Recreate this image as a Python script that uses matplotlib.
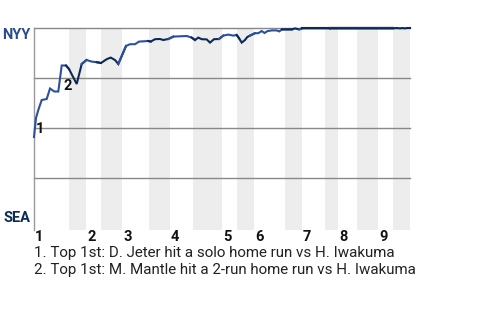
import matplotlib
matplotlib.use("Agg")
import matplotlib.pyplot as plt
import matplotlib.transforms as mtransforms

plt.rcParams['font.family'] = ['Roboto', 'DejaVu Sans']

# game progress (plate appearance position) and NYY win probability (%)
progress = [0, 2, 4.3, 7.7, 12.7, 16, 20.3, 24.3, 27.7, 32, 35,
            42.7, 47.7, 52.5, 57.7, 62.7, 67, 72.7, 76.7, 81, 84.3,
            92, 96, 101, 105, 114.3, 116.7, 121, 126, 129.3, 134.3,
            139.3, 152.7, 157.7, 161, 164.3, 167.7, 172.7, 176, 180, 185,
            189.3, 194.3, 199.3, 202.7, 205, 207.7, 211, 213.3, 216, 221,
            224.3, 227.7, 230.5, 233.3, 237.7, 242.7, 245.3, 248, 258, 261,
            265.3, 268, 296, 359, 362.7, 366, 368.3, 371, 373, 376]
nyy_wp = [45.5, 55, 59, 64, 64.5, 69.75, 68.25, 68.25, 81.25, 81.25, 79.5,
          72, 82, 84, 83.2, 82.9, 82.5, 84.4, 85.2, 84, 82,
          91, 91.9, 91.9, 93.2, 93.5, 93.2, 94.4, 94.5, 94, 94.5,
          95.7, 96, 95.2, 94, 95.2, 94.4, 94.3, 92.7, 94.4, 94.5,
          96.2, 96.7, 96.2, 96.5, 94.9, 92.7, 94, 95.5, 96.2, 97.4,
          97.4, 98.5, 97.5, 98.4, 98.8, 98.8, 98.3, 99.3, 99.3, 99.8,
          99.3, 99.8, 99.8, 99.8, 100, 99.8, 100, 99.8, 100, 100]

# start of each half inning (top 1, bot 1, top 2, ...), and the end
half_starts = [0, 35, 52, 67, 88, 115, 136, 159, 188, 203, 220, 251,
               268, 291, 304, 323, 344, 359, 376]
innings = ['1', '2', '3', '4', '5', '6', '7', '8', '9']

notes_x = [2, 29]
notes_y = [49.5, 71.25]
notes = ["1. Top 1st: D. Jeter hit a solo home run vs H. Iwakuma",
         "2. Top 1st: M. Mantle hit a 2-run home run vs H. Iwakuma"]

top_color = '#2b50a2'
bot_color = '#0c2a52'

fig = plt.figure(figsize=(4.8, 3.2), dpi=100)
ax = fig.add_axes([34 / 480, 1 - 228 / 320, 376 / 480, 200 / 320])
ax.set_xlim(0, 376)
ax.set_ylim(0, 100)

# shaded bottom halves
for i in range(1, len(half_starts) - 1, 2):
    ax.axvspan(half_starts[i], half_starts[i + 1], ymin=-0.01, ymax=1,
               color='#ededed', lw=0, zorder=0, clip_on=False)

for g in [25, 50, 75, 100]:
    ax.axhline(g, color='#888888', lw=1.0, zorder=1, clip_on=False)
ax.axhline(0, color='#e0e0e0', lw=0.8, zorder=1)

# line, coloured by half inning
for i in range(len(half_starts) - 1):
    a, b = half_starts[i], half_starts[i + 1]
    seg_x, seg_y = [], []
    for j in range(len(progress)):
        if a <= progress[j] <= b:
            seg_x.append(progress[j])
            seg_y.append(nyy_wp[j])
    # connect to neighbours across the boundary
    before = [j for j in range(len(progress)) if progress[j] < a]
    after = [j for j in range(len(progress)) if progress[j] > b]
    if before:
        seg_x.insert(0, progress[before[-1]])
        seg_y.insert(0, nyy_wp[before[-1]])
    if after and (not seg_x or seg_x[-1] < b):
        seg_x.append(progress[after[0]])
        seg_y.append(nyy_wp[after[0]])
    c = top_color if i % 2 == 0 else bot_color
    ax.plot(seg_x, seg_y, color=c, lw=1.5, zorder=3, clip_on=False,
            solid_joinstyle='miter')

for k in range(len(notes_x)):
    ax.text(notes_x[k], notes_y[k], str(k + 1), ha='left', va='center',
            fontsize=10.5, fontweight='bold', color='#111111', zorder=4)

for s in ['top', 'right', 'bottom']:
    ax.spines[s].set_visible(False)
ax.spines['left'].set_color('#999999')
ax.spines['left'].set_linewidth(1.0)
ax.spines['left'].set_bounds(-1, 100)
ax.set_xticks([])
ax.set_yticks([])

trans = mtransforms.blended_transform_factory(ax.transData, ax.transAxes)
for k, lab in enumerate(innings):
    ax.text(half_starts[2 * k] + 1, -0.045, lab, transform=trans,
            ha='left', va='center', fontsize=10.5, fontweight='bold',
            color='#111111')

ax.text(-0.008, 1.0, 'NYY', transform=ax.transAxes, ha='right', va='top',
        fontsize=10.5, fontweight='bold', color='#2b4c91')
ax.text(-0.008, 0.015, 'SEA', transform=ax.transAxes, ha='right',
        va='bottom', fontsize=10.5, fontweight='bold', color='#0c2c56')

fig.text(34.5 / 480, 1 - 252.5 / 320, notes[0], ha='left', va='center',
         fontsize=10.9, color='#222222')
fig.text(34.5 / 480, 1 - 270.3 / 320, notes[1], ha='left', va='center',
         fontsize=10.9, color='#222222')

fig.savefig('out.png', dpi=100)
